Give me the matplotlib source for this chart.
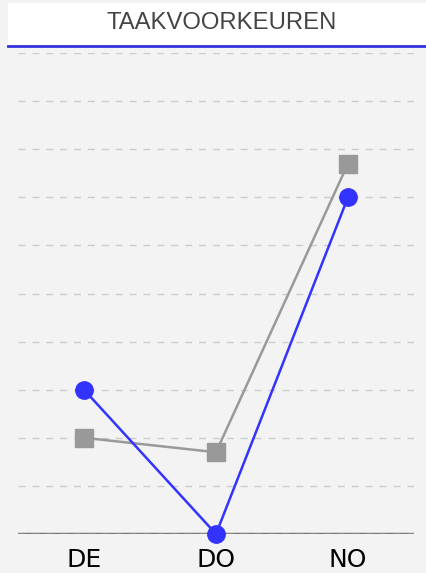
import matplotlib.pyplot as plt
from matplotlib.patches import Rectangle
from matplotlib.lines import Line2D

categories = ["DE", "DO", "NO"]
blue_values = [3.0, 0.0, 7.0]
gray_values = [2.0, 1.7, 7.7]
grid_levels = list(range(0, 11))

fig = plt.figure(figsize=(4.27, 5.73), dpi=100, facecolor="#f3f3f3")

# title box
fig.patches.append(Rectangle((8 / 427, 1 - 45 / 573), 1, 42 / 573,
                             transform=fig.transFigure, facecolor="white",
                             edgecolor="none", zorder=0))
fig.lines.append(Line2D([8 / 427, 1], [1 - 46 / 573, 1 - 46 / 573],
                        transform=fig.transFigure, color="#3333dd", lw=2))
fig.text(222 / 427, 1 - 23 / 573, "TAAKVOORKEUREN", ha="center", va="center",
         fontsize=17.2, color="#444444", family="Liberation Sans")

ax = fig.add_axes([18 / 427, 39 / 573, 396 / 427, 481 / 573])
ax.set_facecolor("#f3f3f3")
for s in ax.spines.values():
    s.set_visible(False)

ax.axhline(0, color="#777777", lw=2.5, zorder=1)
for g in grid_levels:
    ax.axhline(g, color="#cccccc", lw=1, ls=(0, (5, 5)), zorder=1.5)

x = range(len(categories))
ax.plot(x, gray_values, color="#999999", lw=1.8, marker="s", ms=12.5,
        zorder=3)
ax.plot(x, blue_values, color="#3333ff", lw=1.8, marker="o", ms=12.5,
        zorder=4, clip_on=False)

ax.set_xlim(-0.5, 2.5)
ax.set_ylim(0, 10)
ax.set_yticks([])
ax.set_xticks(list(x))
ax.set_xticklabels(categories, fontsize=18, color="black")
ax.tick_params(axis="x", length=0, pad=10)

fig.savefig("out.png", dpi=100, facecolor=fig.get_facecolor())
